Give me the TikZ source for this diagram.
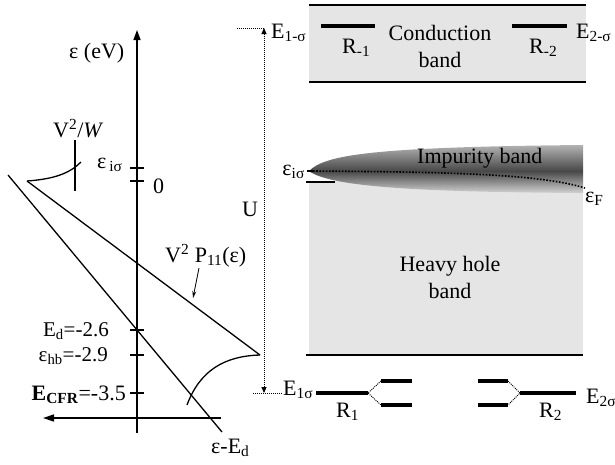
\documentclass[tikz,border=0pt]{standalone}
\usepackage{fontspec}
\setmainfont{Liberation Serif}
\usetikzlibrary{arrows.meta,positioning,calc}

\begin{document}
\begin{tikzpicture}[x=1pt,y=-1pt,
    txt/.style={font=\fontsize{22}{27}\selectfont, inner sep=0pt},
    smalltxt/.style={font=\fontsize{21}{24}\selectfont, inner sep=0pt},
    curve/.style={line width=1.3pt},
    level/.style={line width=3.5pt},
    bandedge/.style={line width=1.8pt},
    tickmark/.style={line width=1.4pt},
    fine/.style={line width=0.9pt, dash pattern=on 1pt off 1pt}]
\useasboundingbox (0,0) rectangle (615,464);

    % Energy axis
    \draw[line width=1.5pt, -{Triangle[length=10pt,width=7pt]}] (137,433) -- (137,30);
    \node[txt, anchor=base west] (epsaxis) at (69,58) {ε (eV)};
    \foreach \y in {168,181,330,355,393} {
        \draw[tickmark] (130,\y) -- (144,\y);
    }
    \node[txt, anchor=base west] (epsi) at (97,168) {ε\hspace{3pt}\textsubscript{iσ}};
    \node[txt, anchor=base west] (zero) at (153,193) {0};
    \node[smalltxt, anchor=base east] (ed) at (109,336) {E\textsubscript{d}=-2.6};
    \node[smalltxt, anchor=base east] (ehb) at (108,361) {ε\textsubscript{hb}=-2.9};
    \node[txt, anchor=base east] (ecfr) at (126,400) {\textbf{E}\textsubscript{\textbf{CFR}}=-3.5};

    % Self-energy construction
    \coordinate (cusp) at (27,181);
    \coordinate (corner) at (260,355);
    \draw[curve] (8,175) coordinate (lineA) -- (222,432) coordinate (lineB);
    \draw[curve] (cusp) -- (corner);
    \draw[curve] (cusp) .. controls (55,179) and (70,173) .. (81,162);
    \draw[curve] (corner) .. controls (225,356) and (200,370) .. (187,405);
    \draw[curve] (75,140) -- (75,191);
    \node[txt, anchor=base west] (vw) at (53,137) {V\textsuperscript{2}/\textit{W}};
    \node[txt, anchor=base west] (vp) at (165,262) {V\textsuperscript{2} P\textsubscript{11}(ε)};
    \coordinate (vptip) at (193,298);
    \draw[line width=0.8pt, -{Stealth[length=7pt,width=4pt]}] (199,268) -- (vptip);
    \node[txt, anchor=base west] (eed) at (211,453) {ε-E\textsubscript{d}};
    \draw[line width=1.5pt, -{Triangle[length=11pt,width=7pt]}] (221,418) -- (43,418);

    % Coulomb energy U
    \coordinate (utop) at (264,28);
    \coordinate (ubot) at (264,393);
    \draw[fine] (237,28) -- (utop);
    \draw[fine] (253,393) -- (283,393);
    \draw[fine, {Triangle[length=6pt,width=5pt]}-{Triangle[length=6pt,width=5pt]}] (utop) -- (ubot);
    \node[txt, anchor=base west] (ulbl) at (242,216) {U};

    % Conduction band
    \fill[black!10] (309,5) rectangle (586,82);
    \draw[bandedge] (309,5) -- (586,5);
    \draw[bandedge] (309,82) -- (586,82);
    \draw[level] (321,26) -- (375,26);
    \draw[level] (512,26) -- (567,26);
    \node[txt, anchor=base west] (e1m) at (271,38.5) {E\textsubscript{1-σ}};
    \node[txt, anchor=base west] (e2m) at (576,38.5) {E\textsubscript{2-σ}};
    \node[txt, anchor=base west] (rm1) at (342,53) {R\textsubscript{-1}};
    \node[txt, anchor=base west] (rm2) at (529,53) {R\textsubscript{-2}};
    \node[txt, align=center] (cband) at (440,46) {Conduction\\band};

    % Heavy hole band and impurity band
    \fill[black!10] (309,181) rectangle (583,355);
    \draw[bandedge] (306,355) -- (583,355);
    \draw[bandedge] (306,182) -- (335,182);
    \begin{scope}
        \clip (309,171) .. controls (325,155) and (370,147) .. (583,145) -- (583,193)
              .. controls (420,192) and (330,187) .. (309,171) -- cycle;
        \shade[top color=black!30, bottom color=black!8, middle color=black!72] (305,145) rectangle (583,197);
    \end{scope}
    \draw[bandedge] (307,171) -- (313,171);
    \draw[line width=1.6pt, dash pattern=on 1.6pt off 1.6pt] (313,171) .. controls (450,172) and (540,174) .. (585,188);
    \node[txt, anchor=base west] (impb) at (417,163) {Impurity band};
    \node[txt, anchor=base east] (epsir) at (305,175) {ε\textsubscript{iσ}};
    \node[txt, anchor=base west] (epsf) at (585,202) {ε\textsubscript{F}};
    \node[txt, align=center] (hhb) at (450,277) {Heavy hole\\band};

    % Localized levels R1 and R2
    \coordinate (r1b) at (368,393);
    \coordinate (r1u) at (381,381);
    \coordinate (r1d) at (381,405);
    \draw[level] (316,393) -- (r1b);
    \draw[level] (r1u) -- (412,381);
    \draw[level] (r1d) -- (412,405);
    \draw[fine] (r1u) -- (r1b) -- (r1d);
    \coordinate (r2a) at (520,393);
    \coordinate (r2u) at (508,381);
    \coordinate (r2d) at (508,405);
    \draw[level] (r2a) -- (576,393);
    \draw[level] (478,381) -- (r2u);
    \draw[level] (478,405) -- (r2d);
    \draw[fine] (r2u) -- (r2a) -- (r2d);
    \node[txt, anchor=base west] (e1s) at (283,395) {E\textsubscript{1σ}};
    \node[txt, anchor=base west] (e2s) at (586,403) {E\textsubscript{2σ}};
    \node[txt, anchor=base west] (r1lbl) at (336,417) {R\textsubscript{1}};
    \node[txt, anchor=base west] (r2lbl) at (539,417) {R\textsubscript{2}};
\end{tikzpicture}
\end{document}
